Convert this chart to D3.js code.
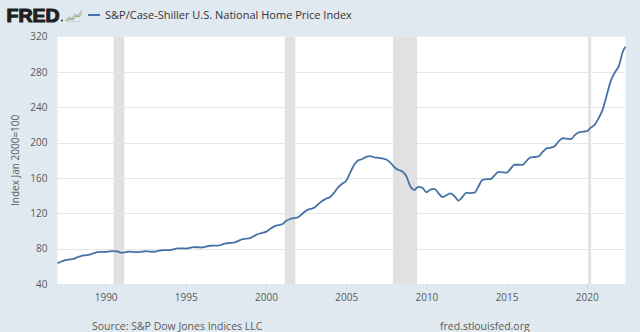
<!DOCTYPE html>
<html><head><meta charset="utf-8">
<script src="https://cdn.jsdelivr.net/npm/d3@7"></script>
<style>
html,body{margin:0;padding:0;background:#e1e9f0;}
svg{display:block;font-family:"Open Sans",sans-serif;}
</style></head>
<body><svg id="c" width="640" height="332"></svg>
<script>
const seriesName = "S&P/Case-Shiller U.S. National Home Price Index";
const yAxisTitle = "Index Jan 2000=100";
const sourceText = "Source: S&P Dow Jones Indices LLC";
const siteText = "fred.stlouisfed.org";

const dates = [
"1987-01","1987-04","1987-07","1987-10","1988-01","1988-04","1988-07","1988-10",
"1989-01","1989-04","1989-07","1989-10","1990-01","1990-04","1990-07","1990-10",
"1991-01","1991-04","1991-07","1991-10","1992-01","1992-04","1992-07","1992-10",
"1993-01","1993-04","1993-07","1993-10","1994-01","1994-04","1994-07","1994-10",
"1995-01","1995-04","1995-07","1995-10","1996-01","1996-04","1996-07","1996-10",
"1997-01","1997-04","1997-07","1997-10","1998-01","1998-04","1998-07","1998-10",
"1999-01","1999-04","1999-07","1999-10","2000-01","2000-04","2000-07","2000-10",
"2001-01","2001-04","2001-07","2001-10","2002-01","2002-04","2002-07","2002-10",
"2003-01","2003-04","2003-07","2003-10","2004-01","2004-04","2004-07","2004-10",
"2005-01","2005-04","2005-07","2005-10","2006-01","2006-04","2006-07","2006-10",
"2007-01","2007-04","2007-07","2007-10","2008-01","2008-04","2008-07","2008-10",
"2009-01","2009-04","2009-07","2009-10","2010-01","2010-04","2010-07","2010-10",
"2011-01","2011-04","2011-07","2011-10","2012-01","2012-04","2012-07","2012-10",
"2013-01","2013-04","2013-07","2013-10","2014-01","2014-04","2014-07","2014-10",
"2015-01","2015-04","2015-07","2015-10","2016-01","2016-04","2016-07","2016-10",
"2017-01","2017-04","2017-07","2017-10","2018-01","2018-04","2018-07","2018-10",
"2019-01","2019-04","2019-07","2019-10","2020-01","2020-04","2020-07","2020-10",
"2021-01","2021-04","2021-07","2021-10","2022-01","2022-04","2022-06"
];
const values = [
63.7,65.5,67.0,67.8, 68.4,70.3,71.9,72.5,
73.2,74.8,76.0,76.3, 76.4,77.0,77.3,76.8,
75.3,76.1,76.6,76.3, 76.0,76.7,77.1,76.7,
76.5,77.4,78.2,78.3, 78.4,79.5,80.4,80.4,
80.1,80.9,81.7,81.6, 81.3,82.4,83.3,83.4,
83.4,84.7,86.0,86.5, 86.8,88.6,90.6,91.3,
92.0,94.3,96.6,97.8, 99.0,102.2,105.0,106.5,
107.6,111.2,113.6,114.5, 115.6,119.2,123.0,125.0,
126.3,130.2,134.0,136.5, 138.6,143.5,149.5,153.5,
157.0,166.0,175.0,180.0, 181.5,184.0,184.8,183.5,
182.8,182.2,181.0,177.5, 172.5,169.0,167.5,162.0,
150.5,146.5,150.0,149.0, 144.0,146.8,147.8,143.0,
138.5,140.5,142.5,139.5, 134.5,138.5,143.5,143.0,
143.5,150.5,158.0,158.8, 158.8,163.0,167.0,166.5,
166.0,170.5,175.0,175.0, 174.8,179.5,183.3,183.8,
184.5,189.5,193.5,194.5, 196.0,201.5,205.0,204.5,
204.0,208.5,211.7,212.5, 213.0,217.0,220.5,228.0,
238.0,254.0,270.0,279.5, 287.0,303.0,308.5
];
const recessionStarts = ["1990-07","2001-03","2007-12","2020-02"];
const recessionEnds   = ["1991-03","2001-11","2009-06","2020-04"];
const yTicks = [40,80,120,160,200,240,280,320];
const xTickYears = [1990,1995,2000,2005,2010,2015,2020];

const parse = d3.utcParse("%Y-%m");
const data = dates.map((d,i)=>({date:parse(d), value:values[i]}));

const svg = d3.select("#c");
const L = 57.5, R = 625.5, T = 36.7, B = 284;

const x = d3.scaleUtc().domain([parse("1987-01"), parse("2022-06")]).range([L, R]);
const y = d3.scaleLinear().domain([40, 320]).range([B, T]);

// plot background
svg.append("rect").attr("x", L).attr("y", T).attr("width", R-L).attr("height", B-T).attr("fill", "#ffffff");

// recessions
svg.append("g").selectAll("rect").data(recessionStarts).join("rect")
  .attr("x", (d)=>x(parse(d)))
  .attr("y", T)
  .attr("width", (d,i)=>Math.max(3, x(parse(recessionEnds[i])) - x(parse(d))))
  .attr("height", B-T)
  .attr("fill", "#e1e1e1");

// gridlines
svg.append("g").selectAll("line").data(yTicks.slice(1, -1)).join("line")
  .attr("x1", L).attr("x2", R)
  .attr("y1", d=>Math.round(y(d))+0.5).attr("y2", d=>Math.round(y(d))+0.5)
  .attr("stroke", "#e6e6e6").attr("stroke-width", 1);

// y axis
const yAxis = svg.append("g").attr("transform", `translate(${L-10},0)`)
  .call(d3.axisLeft(y).tickValues(yTicks).tickSize(0).tickPadding(0));
yAxis.select(".domain").remove();
yAxis.selectAll("text").attr("fill", "#595959").style("font-size", "10px").style("font-family", "Open Sans");

// x axis
const xAxis = svg.append("g").attr("transform", `translate(0,${B})`)
  .call(d3.axisBottom(x).tickValues(xTickYears.map(yr=>new Date(Date.UTC(yr,0,1))))
    .tickFormat(d3.utcFormat("%Y")).tickSize(5).tickPadding(5));
xAxis.select(".domain").remove();
xAxis.selectAll("line").attr("stroke", "#ccd6eb");
xAxis.selectAll("text").attr("fill", "#595959").style("font-size", "10px").style("font-family", "Open Sans");

// line
svg.append("path").datum(data)
  .attr("fill", "none").attr("stroke", "#4572a7").attr("stroke-width", 1.8)
  .attr("stroke-linejoin", "round")
  .attr("d", d3.line().x(d=>x(d.date)).y(d=>y(d.value)).curve(d3.curveMonotoneX));

// y title
svg.append("text").attr("transform", `translate(19,${(T+B)/2}) rotate(-90)`)
  .attr("text-anchor", "middle").attr("fill", "#595959")
  .style("font-size", "10px").text(yAxisTitle);

// header: FRED logo
svg.append("text").attr("x", 6.5).attr("y", 21.5)
  .attr("textLength", 53).attr("lengthAdjust", "spacingAndGlyphs")
  .attr("fill", "#1f1f1f").attr("stroke", "#1f1f1f").attr("stroke-width", 1.1)
  .style("font-size", "18px").style("font-weight", "900")
  .style("font-family", "Arial, Liberation Sans, sans-serif").text("FRED");
svg.append("circle").attr("cx", 62).attr("cy", 20.5).attr("r", 0.9).attr("fill", "#1f1f1f");
// small logo icon
const ic = svg.append("g").attr("transform", "translate(66,9)");
ic.append("path").attr("d", "M0,12 L3,8 L6,10 L9,5 L12,7 L16,1").attr("fill","none").attr("stroke","#9aa3ad").attr("stroke-width",1);
ic.append("path").attr("d", "M0,12 L4,10 L7,11 L10,7 L13,8 L16,4").attr("fill","none").attr("stroke","#8ab866").attr("stroke-width",1);
ic.append("line").attr("x1",0).attr("x2",16).attr("y1",12.5).attr("y2",12.5).attr("stroke","#c8cfd6").attr("stroke-width",0.8);

// legend
svg.append("line").attr("x1", 88).attr("x2", 100).attr("y1", 15).attr("y2", 15)
  .attr("stroke", "#4572a7").attr("stroke-width", 2);
svg.append("text").attr("x", 105).attr("y", 19).attr("fill", "#333333")
  .style("font-size", "11px").text(seriesName);

// footer
svg.append("text").attr("x", 92).attr("y", 330).attr("fill", "#595959")
  .style("font-size", "10.5px").text(sourceText);
svg.append("text").attr("x", 440).attr("y", 330).attr("fill", "#595959")
  .style("font-size", "10.5px").text(siteText);
</script></body></html>
